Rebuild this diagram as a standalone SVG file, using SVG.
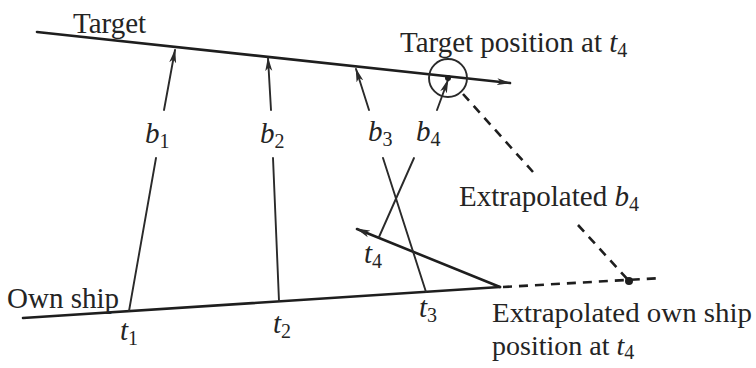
<svg xmlns="http://www.w3.org/2000/svg" width="756" height="368" viewBox="0 0 756 368">
<defs>
<style>
.ln{stroke:#1e1e1e;stroke-width:2.6;fill:none;stroke-linecap:round}
.br{stroke:#2a2a2a;stroke-width:1.9;fill:none;stroke-linecap:round}
.dash{stroke:#1e1e1e;stroke-width:2.6;fill:none;stroke-dasharray:9 7}
.tx{font-family:"Liberation Serif","Times New Roman",serif;font-size:29px;fill:#242424}
.sm{font-size:28px}
.it{font-style:italic}
.sub{font-size:20px;font-style:normal}
</style>
<marker id="ah" viewBox="0 0 14 8" refX="13" refY="4" markerWidth="14" markerHeight="8" markerUnits="userSpaceOnUse" orient="auto">
<path d="M0,0.5 L14,4 L0,7.5 L3.5,4 Z" fill="#2a2a2a"/>
</marker>
</defs>
<rect width="756" height="368" fill="#fff"/>
<g id="connectors">
<line id="target-track" class="ln" x1="37" y1="32" x2="510" y2="83" marker-end="url(#ah)"/>
<line id="own-ship-track" class="ln" x1="23" y1="318" x2="500" y2="287"/>
<line id="own-ship-extrap" class="dash" x1="503" y1="287" x2="662" y2="278"/>
<line id="own-ship-turn" class="ln" x1="500" y1="287" x2="357" y2="229" marker-end="url(#ah)"/>
<line class="br" x1="164" y1="110" x2="175" y2="50" marker-end="url(#ah)"/>
<line class="br" x1="156" y1="158" x2="129" y2="311"/>
<line class="br" x1="271" y1="110" x2="268" y2="58" marker-end="url(#ah)"/>
<line class="br" x1="273" y1="158" x2="279" y2="301"/>
<line class="br" x1="369" y1="110" x2="356" y2="69" marker-end="url(#ah)"/>
<line class="br" x1="383" y1="158" x2="426" y2="292"/>
<line class="br" x1="437" y1="110" x2="448" y2="80" marker-end="url(#ah)"/>
<line class="br" x1="414" y1="158" x2="379" y2="237"/>
<line class="dash" x1="463" y1="94" x2="533" y2="172"/>
<line class="dash" x1="578" y1="225" x2="629" y2="281"/>
</g>
<g id="target-position">
<circle cx="448" cy="78" r="19" fill="none" stroke="#2a2a2a" stroke-width="1.9"/>
<circle cx="448" cy="78" r="3" fill="#1e1e1e"/>
</g>
<g id="extrap-own-position">
<circle cx="629" cy="281" r="4" fill="#1e1e1e"/>
</g>
<g id="labels">
<text class="tx" x="73" y="33">Target</text>
<text class="tx" x="400" y="52">Target position at <tspan class="it">t</tspan><tspan class="sub" dy="5">4</tspan></text>
<text class="tx" x="145" y="143"><tspan class="it">b</tspan><tspan class="sub" dy="5">1</tspan></text>
<text class="tx" x="260" y="143"><tspan class="it">b</tspan><tspan class="sub" dy="5">2</tspan></text>
<text class="tx" x="368" y="141"><tspan class="it">b</tspan><tspan class="sub" dy="5">3</tspan></text>
<text class="tx" x="416" y="141"><tspan class="it">b</tspan><tspan class="sub" dy="5">4</tspan></text>
<text class="tx" x="7" y="308">Own ship</text>
<text class="tx" x="120" y="340"><tspan class="it">t</tspan><tspan class="sub" dy="5">1</tspan></text>
<text class="tx" x="273" y="333"><tspan class="it">t</tspan><tspan class="sub" dy="5">2</tspan></text>
<text class="tx" x="419" y="317"><tspan class="it">t</tspan><tspan class="sub" dy="5">3</tspan></text>
<text class="tx" x="364" y="263"><tspan class="it">t</tspan><tspan class="sub" dy="5">4</tspan></text>
<text class="tx" x="459" y="206">Extrapolated <tspan class="it">b</tspan><tspan class="sub" dy="5">4</tspan></text>
<text class="tx sm" x="492" y="322" textLength="260" lengthAdjust="spacingAndGlyphs">Extrapolated own ship</text>
<text class="tx sm" x="492" y="355">position at <tspan class="it">t</tspan><tspan class="sub" dy="4">4</tspan></text>
</g>
</svg>
